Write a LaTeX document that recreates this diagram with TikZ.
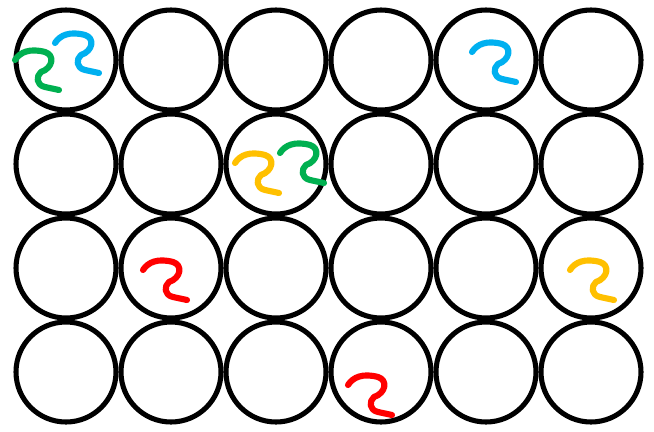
\documentclass[tikz,border=0pt]{standalone}
\usetikzlibrary{positioning}
\definecolor{WormBlue}{RGB}{0,176,240}
\definecolor{WormGreen}{RGB}{0,176,80}
\definecolor{WormOrange}{RGB}{255,192,0}
\definecolor{WormRed}{RGB}{255,0,0}
\tikzset{
  worm/.pic={
    \draw[pic actions] (0,0) .. controls (5,-8) and (15,-12) .. (30,-8)
      .. controls (40,-5) and (38,8) .. (26,12)
      .. controls (21,16) and (21,25) .. (30,27) -- (44,30);
  }
}
\begin{document}
\begin{tikzpicture}[x=0.75pt, y=-0.75pt,
    cell/.style={draw=black, line width=3.8pt},
    wormline/.style={line width=4.6pt, line cap=round, line join=round}]
  \useasboundingbox (0,0) rectangle (654,432);
  % grid of circles
  \foreach \col in {0,...,5}
    \foreach \row in {0,...,3}
      \draw[cell] (66+105*\col, 60+104*\row) circle [radius=37.5pt];
  % squiggles
  \pic[draw=WormGreen, wormline] at (15,60) {worm};
  \pic[draw=WormBlue, wormline] at (55,43) {worm};
  \pic[draw=WormBlue, wormline] at (472,52) {worm};
  \pic[draw=WormOrange, wormline] at (235,163) {worm};
  \pic[draw=WormGreen, wormline] at (280,153) {worm};
  \pic[draw=WormRed, wormline] at (143,270) {worm};
  \pic[draw=WormOrange, wormline] at (570,270) {worm};
  \pic[draw=WormRed, wormline] at (348,385) {worm};
\end{tikzpicture}
\end{document}
